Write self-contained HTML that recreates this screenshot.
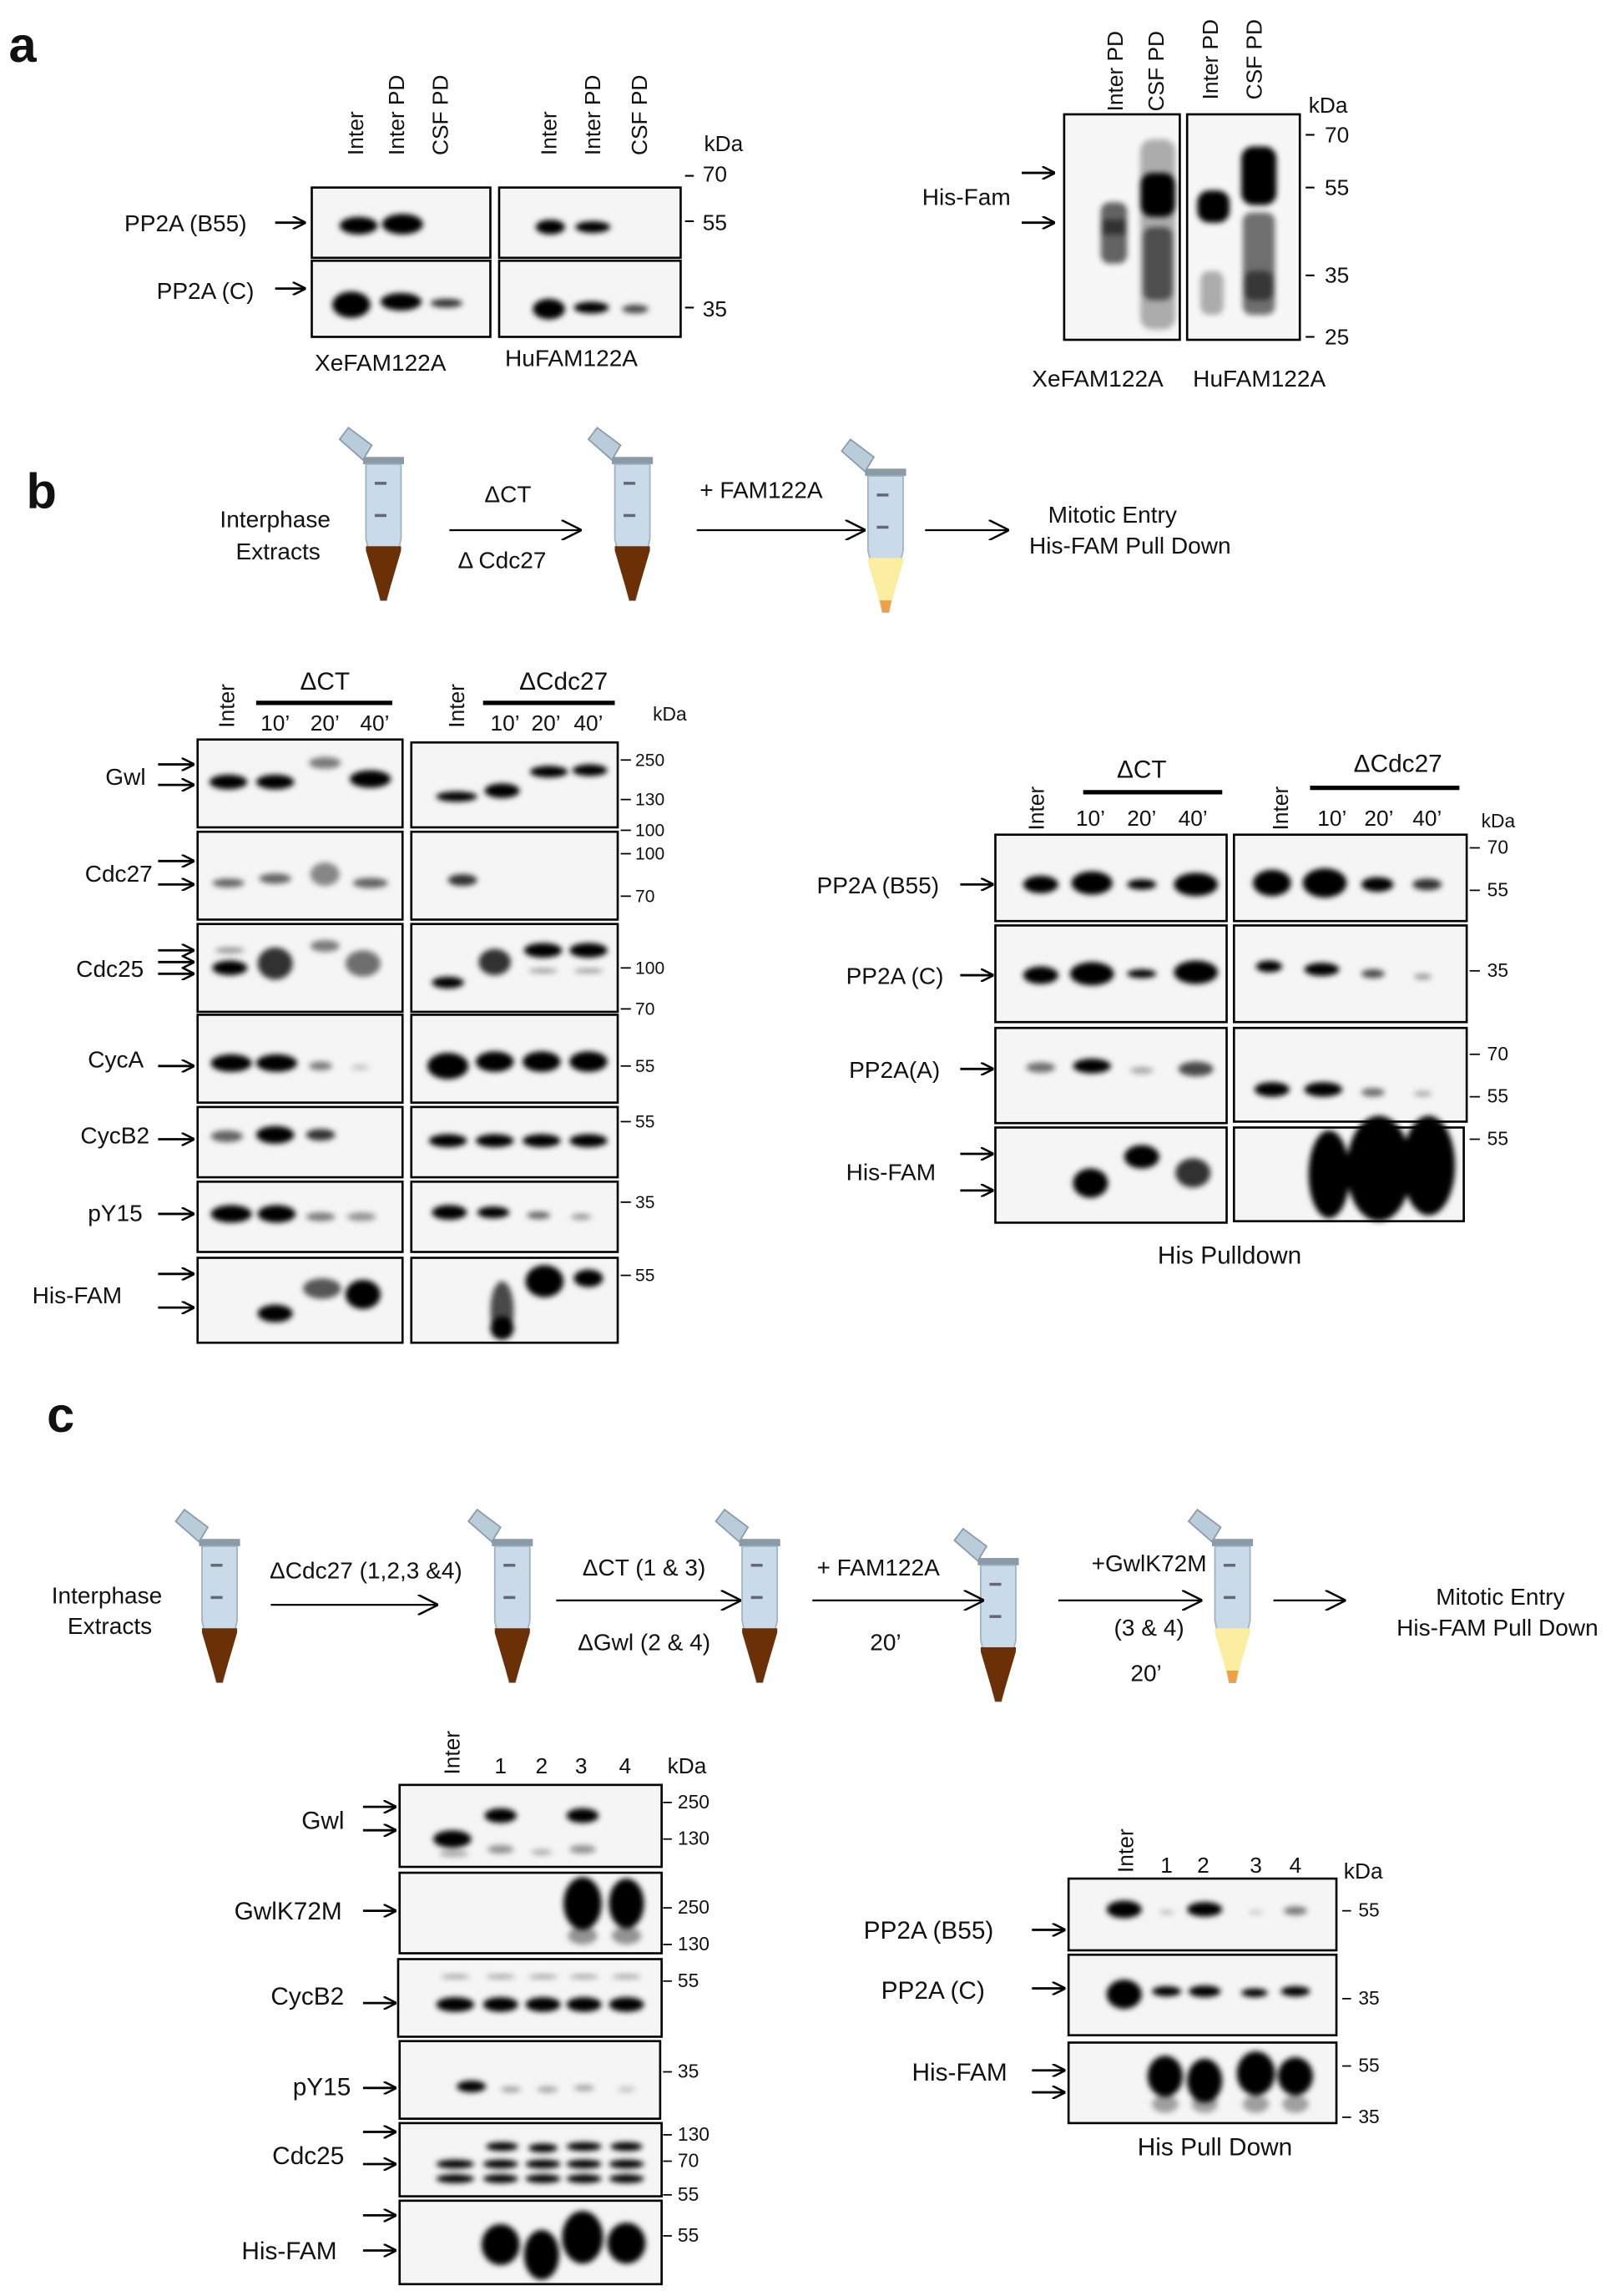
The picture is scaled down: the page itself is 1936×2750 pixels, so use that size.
<!DOCTYPE html>
<html><head><meta charset="utf-8"><style>
html,body{margin:0;padding:0;background:#fff}
svg{display:block}
text{font-family:"Liberation Sans",sans-serif;fill:#111}
</style></head><body>
<svg width="1936" height="2750" viewBox="0 0 1104 1568" xmlns="http://www.w3.org/2000/svg">
<defs>
<filter id="b" x="-50%" y="-50%" width="200%" height="200%"><feGaussianBlur stdDeviation="2"/></filter>
<filter id="b2" x="-50%" y="-50%" width="200%" height="200%"><feGaussianBlur stdDeviation="4"/></filter>
<marker id="ah" viewBox="0 0 10 10" refX="9" refY="5" markerWidth="9" markerHeight="9" orient="auto" markerUnits="userSpaceOnUse"><path d="M0,0 L10,5 L0,10" fill="none" stroke="#000" stroke-width="1.6"/></marker>
<marker id="ah2" viewBox="0 0 10 10" refX="9" refY="5" markerWidth="14" markerHeight="14" orient="auto" markerUnits="userSpaceOnUse"><path d="M0,0 L10,5 L0,10" fill="none" stroke="#000" stroke-width="1"/></marker>
<g id="tube">
<rect x="-14" y="-6" width="28" height="5" fill="#8a9aa6"/>
<path d="M-12,-1 L12,-1 L12,50 L2,92 L-2,92 L-12,50 Z" fill="#c9dbe8" stroke="#9fb2c0" stroke-width="1"/>
<line x1="-6" y1="12" x2="2" y2="12" stroke="#667" stroke-width="2"/>
<line x1="-6" y1="34" x2="2" y2="34" stroke="#667" stroke-width="2"/>
<path d="M-14,-4 L-30,-18 L-24,-26 L-8,-14 Z" fill="#b8ccda" stroke="#8a9aa6" stroke-width="1"/>
</g>
<g id="tubeb">
<use href="#tube"/>
<path d="M-12,55 L12,55 L12,58 L2,92 L-2,92 L-12,58 Z" fill="#6b3006"/>
</g>
<g id="tubey">
<use href="#tube"/>
<path d="M-12,55 L12,55 L12,58 L2,92 L-2,92 L-12,58 Z" fill="#fbeea0"/>
<path d="M-4,84 L4,84 L2,92 L-2,92 Z" fill="#f0a040"/>
</g>
</defs>

<!-- ============ PANEL A ============ -->
<text x="6" y="42" font-size="34" font-weight="bold">a</text>
<g font-size="15">
<text transform="translate(248,106) rotate(-90)">Inter</text>
<text transform="translate(276,106) rotate(-90)">Inter PD</text>
<text transform="translate(306,106) rotate(-90)">CSF PD</text>
<text transform="translate(380,106) rotate(-90)">Inter</text>
<text transform="translate(410,106) rotate(-90)">Inter PD</text>
<text transform="translate(442,106) rotate(-90)">CSF PD</text>
</g>
<text x="481" y="103" font-size="15">kDa</text>
<g font-size="15">
<text x="480" y="124">70</text><text x="480" y="157">55</text><text x="480" y="216">35</text>
</g>
<g stroke="#000" stroke-width="1.2"><line x1="468" y1="120" x2="474" y2="120"/><line x1="468" y1="151" x2="474" y2="151"/><line x1="468" y1="210" x2="474" y2="210"/></g>
<g fill="#f5f5f5" stroke="#000" stroke-width="1.5">
<rect x="213" y="128" width="122" height="48"/><rect x="341" y="128" width="124" height="48"/>
<rect x="213" y="178" width="122" height="52"/><rect x="341" y="178" width="124" height="52"/>
</g>
<g filter="url(#b)">
<ellipse cx="245" cy="154" rx="13" ry="6"/><ellipse cx="275" cy="153" rx="14" ry="7"/>
<ellipse cx="376" cy="155" rx="10" ry="5"/><ellipse cx="405" cy="155" rx="12" ry="4"/>
<ellipse cx="240" cy="208" rx="13" ry="9"/><ellipse cx="274" cy="206" rx="14" ry="6"/><ellipse cx="305" cy="207" rx="11" ry="3" opacity=".8"/>
<ellipse cx="375" cy="211" rx="11" ry="7"/><ellipse cx="404" cy="210" rx="12" ry="4"/><ellipse cx="434" cy="211" rx="9" ry="3" opacity=".7"/>
</g>
<text x="85" y="158" font-size="16">PP2A (B55)</text>
<line x1="188" y1="152" x2="208" y2="152" stroke="#000" stroke-width="1.6" marker-end="url(#ah)"/>
<text x="107" y="204" font-size="16">PP2A (C)</text>
<line x1="188" y1="197" x2="208" y2="197" stroke="#000" stroke-width="1.6" marker-end="url(#ah)"/>
<text x="215" y="253" font-size="16">XeFAM122A</text>
<text x="345" y="250" font-size="16">HuFAM122A</text>

<!-- right a -->
<g font-size="15">
<text transform="translate(767,76) rotate(-90)">Inter PD</text>
<text transform="translate(795,76) rotate(-90)">CSF PD</text>
<text transform="translate(832,68) rotate(-90)">Inter PD</text>
<text transform="translate(862,68) rotate(-90)">CSF PD</text>
</g>
<text x="894" y="77" font-size="15">kDa</text>
<g font-size="15"><text x="905" y="97">70</text><text x="905" y="133">55</text><text x="905" y="193">35</text><text x="905" y="235">25</text></g>
<g stroke="#000" stroke-width="1.2"><line x1="892" y1="92" x2="898" y2="92"/><line x1="892" y1="128" x2="898" y2="128"/><line x1="892" y1="188" x2="898" y2="188"/><line x1="892" y1="230" x2="898" y2="230"/></g>
<g fill="#f7f7f7" stroke="#000" stroke-width="1.5">
<rect x="727" y="78" width="79" height="154"/><rect x="811" y="78" width="77" height="154"/>
</g>
<g filter="url(#b)">
<rect x="752" y="138" width="18" height="42" rx="6" opacity=".6"/><rect x="753" y="150" width="16" height="10" opacity=".5"/>
<rect x="779" y="95" width="24" height="130" rx="8" opacity=".3"/>
<rect x="779" y="118" width="24" height="30" rx="8"/><rect x="781" y="155" width="20" height="50" rx="6" opacity=".55"/>
<rect x="818" y="130" width="22" height="22" rx="8"/><rect x="820" y="185" width="16" height="30" rx="6" opacity=".3"/>
<rect x="848" y="100" width="24" height="40" rx="8"/><rect x="849" y="145" width="22" height="70" rx="6" opacity=".55"/><rect x="850" y="185" width="20" height="20" rx="6" opacity=".5"/>
</g>
<text x="630" y="140" font-size="16">His-Fam</text>
<line x1="698" y1="118" x2="720" y2="118" stroke="#000" stroke-width="1.6" marker-end="url(#ah)"/>
<line x1="698" y1="152" x2="720" y2="152" stroke="#000" stroke-width="1.6" marker-end="url(#ah)"/>
<text x="705" y="264" font-size="16">XeFAM122A</text>
<text x="815" y="264" font-size="16">HuFAM122A</text>

<!-- ============ PANEL B ============ -->
<text x="18" y="347" font-size="34" font-weight="bold">b</text>
<use href="#tubeb" x="262" y="318"/>
<use href="#tubeb" x="432" y="318"/>
<use href="#tubey" x="605" y="326"/>
<text x="188" y="360" font-size="16" text-anchor="middle">Interphase</text>
<text x="190" y="382" font-size="16" text-anchor="middle">Extracts</text>
<text x="347" y="343" font-size="16" text-anchor="middle">ΔCT</text>
<text x="343" y="388" font-size="16" text-anchor="middle">Δ Cdc27</text>
<line x1="307" y1="362" x2="396" y2="362" stroke="#000" stroke-width="1.3" marker-end="url(#ah2)"/>
<text x="520" y="340" font-size="16" text-anchor="middle">+ FAM122A</text>
<line x1="476" y1="362" x2="590" y2="362" stroke="#000" stroke-width="1.3" marker-end="url(#ah2)"/>
<line x1="632" y1="362" x2="688" y2="362" stroke="#000" stroke-width="1.3" marker-end="url(#ah2)"/>
<text x="760" y="357" font-size="16" text-anchor="middle">Mitotic Entry</text>
<text x="772" y="378" font-size="16" text-anchor="middle">His-FAM Pull Down</text>

<!-- left b blots -->
<g font-size="15">
<text transform="translate(160,497) rotate(-90)">Inter</text>
<text transform="translate(317,497) rotate(-90)">Inter</text>
<text x="222" y="471" font-size="17" text-anchor="middle">ΔCT</text>
<text x="385" y="471" font-size="17" text-anchor="middle">ΔCdc27</text>
<text x="188" y="499" text-anchor="middle">10’</text><text x="222" y="499" text-anchor="middle">20’</text><text x="256" y="499" text-anchor="middle">40’</text>
<text x="345" y="499" text-anchor="middle">10’</text><text x="373" y="499" text-anchor="middle">20’</text><text x="402" y="499" text-anchor="middle">40’</text>
</g>
<line x1="175" y1="480" x2="268" y2="480" stroke="#000" stroke-width="3"/>
<line x1="330" y1="480" x2="420" y2="480" stroke="#000" stroke-width="3"/>
<text x="446" y="492" font-size="13">kDa</text>
<g fill="#f5f5f5" stroke="#000" stroke-width="1.5">
<rect x="135" y="505" width="140" height="60"/><rect x="281" y="507" width="141" height="58"/>
<rect x="135" y="568" width="140" height="60"/><rect x="281" y="568" width="141" height="60"/>
<rect x="135" y="631" width="140" height="60"/><rect x="281" y="631" width="141" height="60"/>
<rect x="135" y="693" width="140" height="60"/><rect x="281" y="693" width="141" height="60"/>
<rect x="135" y="756" width="140" height="48"/><rect x="281" y="756" width="141" height="48"/>
<rect x="135" y="807" width="140" height="48"/><rect x="281" y="807" width="141" height="48"/>
<rect x="135" y="859" width="140" height="58"/><rect x="281" y="859" width="141" height="58"/>
</g>
<g filter="url(#b)">
<ellipse cx="156" cy="534" rx="13" ry="5"/><ellipse cx="188" cy="534" rx="13" ry="5"/><ellipse cx="222" cy="521" rx="11" ry="4" opacity=".5"/><ellipse cx="253" cy="532" rx="14" ry="6"/>
<ellipse cx="312" cy="544" rx="14" ry="3.5"/><ellipse cx="343" cy="540" rx="12" ry="5"/><ellipse cx="375" cy="527" rx="13" ry="4"/><ellipse cx="403" cy="526" rx="12" ry="4"/>
<ellipse cx="156" cy="603" rx="11" ry="3" opacity=".6"/><ellipse cx="188" cy="600" rx="11" ry="3.5" opacity=".6"/><ellipse cx="222" cy="597" rx="10" ry="8" opacity=".45"/><ellipse cx="253" cy="603" rx="12" ry="3.5" opacity=".6"/>
<ellipse cx="316" cy="601" rx="10" ry="4" opacity=".8"/>
<ellipse cx="157" cy="661" rx="12" ry="5"/><ellipse cx="157" cy="649" rx="10" ry="2" opacity=".4"/><ellipse cx="188" cy="658" rx="12" ry="11" opacity=".8"/><ellipse cx="222" cy="646" rx="10" ry="4" opacity=".5"/><ellipse cx="248" cy="658" rx="12" ry="9" opacity=".55"/>
<ellipse cx="306" cy="671" rx="11" ry="4"/><ellipse cx="338" cy="657" rx="11" ry="9" opacity=".8"/><ellipse cx="371" cy="649" rx="13" ry="5"/><ellipse cx="402" cy="649" rx="13" ry="5"/><ellipse cx="371" cy="663" rx="10" ry="1.5" opacity=".4"/><ellipse cx="402" cy="663" rx="10" ry="1.5" opacity=".4"/>
<ellipse cx="158" cy="726" rx="14" ry="6"/><ellipse cx="189" cy="726" rx="14" ry="6"/><ellipse cx="219" cy="728" rx="8" ry="3" opacity=".5"/><ellipse cx="246" cy="729" rx="6" ry="2" opacity=".2"/>
<ellipse cx="306" cy="728" rx="14" ry="9"/><ellipse cx="338" cy="725" rx="13" ry="7"/><ellipse cx="370" cy="725" rx="13" ry="7"/><ellipse cx="402" cy="725" rx="13" ry="7"/>
<ellipse cx="155" cy="776" rx="11" ry="4" opacity=".6"/><ellipse cx="188" cy="775" rx="13" ry="6"/><ellipse cx="219" cy="775" rx="10" ry="4" opacity=".8"/>
<ellipse cx="306" cy="779" rx="13" ry="4.5"/><ellipse cx="338" cy="779" rx="13" ry="4.5"/><ellipse cx="370" cy="779" rx="13" ry="4.5"/><ellipse cx="402" cy="779" rx="13" ry="4.5"/>
<ellipse cx="158" cy="829" rx="14" ry="6"/><ellipse cx="189" cy="829" rx="13" ry="6"/><ellipse cx="219" cy="831" rx="10" ry="3" opacity=".5"/><ellipse cx="247" cy="831" rx="10" ry="3" opacity=".4"/>
<ellipse cx="307" cy="828" rx="12" ry="5"/><ellipse cx="337" cy="828" rx="11" ry="4"/><ellipse cx="368" cy="830" rx="8" ry="2.5" opacity=".6"/><ellipse cx="397" cy="831" rx="7" ry="2" opacity=".4"/>
<ellipse cx="188" cy="897" rx="12" ry="6"/><ellipse cx="220" cy="880" rx="13" ry="7" opacity=".65"/><ellipse cx="248" cy="884" rx="12" ry="10"/>
<ellipse cx="343" cy="895" rx="8" ry="20" opacity=".7"/><ellipse cx="343" cy="907" rx="8" ry="8"/><ellipse cx="372" cy="875" rx="13" ry="11"/><ellipse cx="402" cy="873" rx="10" ry="6"/>
</g>
<g font-size="16">
<text x="72" y="536">Gwl</text><text x="58" y="602">Cdc27</text><text x="52" y="667">Cdc25</text>
<text x="60" y="729">CycA</text><text x="55" y="781">CycB2</text><text x="60" y="834">pY15</text><text x="22" y="890">His-FAM</text>
</g>
<g stroke="#000" stroke-width="1.6" marker-end="url(#ah)">
<line x1="108" y1="522" x2="132" y2="522"/><line x1="108" y1="536" x2="132" y2="536"/>
<line x1="108" y1="588" x2="132" y2="588"/><line x1="108" y1="604" x2="132" y2="604"/>
<line x1="108" y1="649" x2="132" y2="649"/><line x1="108" y1="657" x2="132" y2="657"/><line x1="108" y1="665" x2="132" y2="665"/>
<line x1="108" y1="728" x2="132" y2="728"/><line x1="108" y1="778" x2="132" y2="778"/><line x1="108" y1="829" x2="132" y2="829"/>
<line x1="108" y1="870" x2="132" y2="870"/><line x1="108" y1="893" x2="132" y2="893"/>
</g>
<g font-size="12"><text x="434" y="523">250</text><text x="434" y="550">130</text><text x="434" y="571">100</text><text x="434" y="587">100</text><text x="434" y="616">70</text>
<text x="434" y="665">100</text><text x="434" y="693">70</text><text x="434" y="732">55</text><text x="434" y="770">55</text><text x="434" y="825">35</text><text x="434" y="875">55</text></g>
<g stroke="#000" stroke-width="1"><line x1="424" y1="519" x2="431" y2="519"/><line x1="424" y1="546" x2="431" y2="546"/><line x1="424" y1="567" x2="431" y2="567"/><line x1="424" y1="583" x2="431" y2="583"/><line x1="424" y1="612" x2="431" y2="612"/><line x1="424" y1="661" x2="431" y2="661"/><line x1="424" y1="689" x2="431" y2="689"/><line x1="424" y1="728" x2="431" y2="728"/><line x1="424" y1="766" x2="431" y2="766"/><line x1="424" y1="821" x2="431" y2="821"/><line x1="424" y1="871" x2="431" y2="871"/></g>

<!-- right b blots -->
<g font-size="15">
<text transform="translate(713,567) rotate(-90)">Inter</text>
<text transform="translate(880,567) rotate(-90)">Inter</text>
<text x="780" y="531" font-size="17" text-anchor="middle">ΔCT</text>
<text x="955" y="527" font-size="17" text-anchor="middle">ΔCdc27</text>
<text x="745" y="564" text-anchor="middle">10’</text><text x="780" y="564" text-anchor="middle">20’</text><text x="815" y="564" text-anchor="middle">40’</text>
<text x="910" y="564" text-anchor="middle">10’</text><text x="942" y="564" text-anchor="middle">20’</text><text x="975" y="564" text-anchor="middle">40’</text>
</g>
<line x1="740" y1="541" x2="835" y2="541" stroke="#000" stroke-width="3"/>
<line x1="895" y1="538" x2="997" y2="538" stroke="#000" stroke-width="3"/>
<text x="1012" y="565" font-size="13">kDa</text>
<g fill="#f5f5f5" stroke="#000" stroke-width="1.5">
<rect x="680" y="570" width="158" height="59"/><rect x="843" y="570" width="159" height="59"/>
<rect x="680" y="632" width="158" height="66"/><rect x="843" y="632" width="159" height="66"/>
<rect x="680" y="702" width="158" height="65"/><rect x="843" y="702" width="159" height="64"/>
<rect x="680" y="770" width="158" height="65"/><rect x="843" y="770" width="157" height="64"/>
</g>
<g filter="url(#b)">
<ellipse cx="711" cy="604" rx="12" ry="6"/><ellipse cx="746" cy="603" rx="14" ry="8"/><ellipse cx="780" cy="604" rx="10" ry="3.5"/><ellipse cx="817" cy="604" rx="15" ry="8"/>
<ellipse cx="869" cy="603" rx="13" ry="9"/><ellipse cx="905" cy="603" rx="15" ry="10"/><ellipse cx="941" cy="604" rx="11" ry="5"/><ellipse cx="975" cy="604" rx="10" ry="4" opacity=".8"/>
<ellipse cx="711" cy="666" rx="12" ry="6"/><ellipse cx="746" cy="665" rx="15" ry="8"/><ellipse cx="780" cy="665" rx="10" ry="3"/><ellipse cx="817" cy="664" rx="15" ry="8"/>
<ellipse cx="867" cy="660" rx="9" ry="4"/><ellipse cx="903" cy="662" rx="12" ry="4.5"/><ellipse cx="938" cy="665" rx="8" ry="3" opacity=".7"/><ellipse cx="972" cy="667" rx="6" ry="2" opacity=".4"/>
<ellipse cx="711" cy="729" rx="10" ry="3.5" opacity=".55"/><ellipse cx="746" cy="728" rx="13" ry="5"/><ellipse cx="780" cy="731" rx="8" ry="2.5" opacity=".3"/><ellipse cx="817" cy="730" rx="12" ry="5" opacity=".7"/>
<ellipse cx="869" cy="744" rx="12" ry="5"/><ellipse cx="904" cy="744" rx="13" ry="5"/><ellipse cx="938" cy="746" rx="8" ry="3" opacity=".55"/><ellipse cx="972" cy="747" rx="6" ry="2" opacity=".3"/>
<ellipse cx="745" cy="808" rx="12" ry="10"/><ellipse cx="780" cy="790" rx="12" ry="8"/><ellipse cx="815" cy="801" rx="12" ry="10" opacity=".8"/>
<ellipse cx="908" cy="802" rx="14" ry="30"/><ellipse cx="942" cy="798" rx="22" ry="36"/><ellipse cx="976" cy="796" rx="18" ry="34"/>
</g>
<g font-size="16">
<text x="558" y="610">PP2A (B55)</text><text x="578" y="672">PP2A (C)</text><text x="580" y="736">PP2A(A)</text><text x="578" y="806">His-FAM</text>
</g>
<g stroke="#000" stroke-width="1.6" marker-end="url(#ah)">
<line x1="656" y1="604" x2="678" y2="604"/><line x1="656" y1="666" x2="678" y2="666"/><line x1="656" y1="730" x2="678" y2="730"/>
<line x1="656" y1="788" x2="678" y2="788"/><line x1="656" y1="813" x2="678" y2="813"/>
</g>
<g font-size="13"><text x="1016" y="583">70</text><text x="1016" y="612">55</text><text x="1016" y="667">35</text><text x="1016" y="724">70</text><text x="1016" y="753">55</text><text x="1016" y="782">55</text></g>
<g stroke="#000" stroke-width="1"><line x1="1004" y1="579" x2="1011" y2="579"/><line x1="1004" y1="608" x2="1011" y2="608"/><line x1="1004" y1="663" x2="1011" y2="663"/><line x1="1004" y1="720" x2="1011" y2="720"/><line x1="1004" y1="749" x2="1011" y2="749"/><line x1="1004" y1="778" x2="1011" y2="778"/></g>
<text x="840" y="863" font-size="17" text-anchor="middle">His Pulldown</text>

<!-- ============ PANEL C ============ -->
<text x="32" y="978" font-size="34" font-weight="bold">c</text>
<use href="#tubeb" x="150" y="1057"/>
<use href="#tubeb" x="350" y="1057"/>
<use href="#tubeb" x="519" y="1057"/>
<use href="#tubeb" x="682" y="1070"/>
<use href="#tubey" x="842" y="1057"/>
<text x="73" y="1095" font-size="16" text-anchor="middle">Interphase</text>
<text x="75" y="1116" font-size="16" text-anchor="middle">Extracts</text>
<text x="250" y="1078" font-size="16" text-anchor="middle">ΔCdc27 (1,2,3 &amp;4)</text>
<line x1="185" y1="1096" x2="298" y2="1096" stroke="#000" stroke-width="1.3" marker-end="url(#ah2)"/>
<text x="440" y="1076" font-size="16" text-anchor="middle">ΔCT (1 &amp; 3)</text>
<text x="440" y="1127" font-size="16" text-anchor="middle">ΔGwl (2 &amp; 4)</text>
<line x1="380" y1="1093" x2="505" y2="1093" stroke="#000" stroke-width="1.3" marker-end="url(#ah2)"/>
<text x="600" y="1076" font-size="16" text-anchor="middle">+ FAM122A</text>
<text x="605" y="1127" font-size="16" text-anchor="middle">20’</text>
<line x1="555" y1="1093" x2="671" y2="1093" stroke="#000" stroke-width="1.3" marker-end="url(#ah2)"/>
<text x="785" y="1073" font-size="16" text-anchor="middle">+GwlK72M</text>
<text x="785" y="1117" font-size="16" text-anchor="middle">(3 &amp; 4)</text>
<text x="783" y="1148" font-size="16" text-anchor="middle">20’</text>
<line x1="723" y1="1093" x2="820" y2="1093" stroke="#000" stroke-width="1.3" marker-end="url(#ah2)"/>
<line x1="870" y1="1093" x2="918" y2="1093" stroke="#000" stroke-width="1.3" marker-end="url(#ah2)"/>
<text x="1025" y="1096" font-size="16" text-anchor="middle">Mitotic Entry</text>
<text x="1023" y="1117" font-size="16" text-anchor="middle">His-FAM Pull Down</text>

<!-- left c blots -->
<g font-size="15">
<text transform="translate(314,1212) rotate(-90)">Inter</text>
<text x="342" y="1211" text-anchor="middle">1</text><text x="370" y="1211" text-anchor="middle">2</text><text x="397" y="1211" text-anchor="middle">3</text><text x="427" y="1211" text-anchor="middle">4</text>
<text x="456" y="1211">kDa</text>
</g>
<g fill="#f5f5f5" stroke="#000" stroke-width="1.5">
<rect x="273" y="1219" width="179" height="56"/><rect x="273" y="1279" width="179" height="55"/>
<rect x="272" y="1338" width="180" height="53"/><rect x="273" y="1394" width="178" height="53"/>
<rect x="273" y="1450" width="179" height="50"/><rect x="273" y="1503" width="179" height="57"/>
</g>
<g filter="url(#b)">
<ellipse cx="309" cy="1256" rx="13" ry="6"/><ellipse cx="342" cy="1240" rx="11" ry="5"/><ellipse cx="398" cy="1240" rx="11" ry="5"/>
<ellipse cx="342" cy="1263" rx="9" ry="3" opacity=".4"/><ellipse cx="398" cy="1263" rx="9" ry="3" opacity=".4"/><ellipse cx="370" cy="1265" rx="7" ry="2" opacity=".3"/><ellipse cx="310" cy="1266" rx="10" ry="2" opacity=".35"/>
<ellipse cx="398" cy="1300" rx="13" ry="18"/><ellipse cx="428" cy="1300" rx="12" ry="17"/><ellipse cx="398" cy="1322" rx="10" ry="6" opacity=".4"/><ellipse cx="428" cy="1322" rx="10" ry="6" opacity=".4"/>
<ellipse cx="311" cy="1369" rx="13" ry="5"/><ellipse cx="342" cy="1369" rx="12" ry="5"/><ellipse cx="371" cy="1369" rx="12" ry="5"/><ellipse cx="399" cy="1369" rx="12" ry="5"/><ellipse cx="428" cy="1369" rx="12" ry="5"/>
<ellipse cx="311" cy="1350" rx="10" ry="1.5" opacity=".35"/><ellipse cx="342" cy="1350" rx="10" ry="1.5" opacity=".35"/><ellipse cx="371" cy="1350" rx="10" ry="1.5" opacity=".35"/><ellipse cx="399" cy="1350" rx="10" ry="1.5" opacity=".35"/><ellipse cx="428" cy="1350" rx="10" ry="1.5" opacity=".35"/>
<ellipse cx="322" cy="1425" rx="10" ry="4"/><ellipse cx="349" cy="1427" rx="7" ry="2" opacity=".35"/><ellipse cx="374" cy="1427" rx="7" ry="2" opacity=".35"/><ellipse cx="399" cy="1426" rx="7" ry="2" opacity=".35"/><ellipse cx="428" cy="1427" rx="6" ry="2" opacity=".2"/>
<ellipse cx="343" cy="1466" rx="11" ry="3"/><ellipse cx="371" cy="1467" rx="10" ry="3"/><ellipse cx="399" cy="1466" rx="12" ry="3"/><ellipse cx="428" cy="1466" rx="11" ry="3"/>
<ellipse cx="311" cy="1478" rx="13" ry="3"/><ellipse cx="342" cy="1478" rx="12" ry="3"/><ellipse cx="371" cy="1478" rx="12" ry="3"/><ellipse cx="399" cy="1478" rx="12" ry="3"/><ellipse cx="428" cy="1478" rx="12" ry="3"/>
<ellipse cx="311" cy="1488" rx="13" ry="3"/><ellipse cx="342" cy="1488" rx="12" ry="3"/><ellipse cx="371" cy="1488" rx="12" ry="3"/><ellipse cx="399" cy="1488" rx="12" ry="3"/><ellipse cx="428" cy="1488" rx="12" ry="3"/>
<ellipse cx="342" cy="1533" rx="13" ry="14"/><ellipse cx="370" cy="1540" rx="12" ry="17"/><ellipse cx="398" cy="1528" rx="14" ry="18"/><ellipse cx="428" cy="1532" rx="13" ry="14"/>
</g>
<g font-size="17">
<text x="206" y="1249">Gwl</text><text x="160" y="1311">GwlK72M</text><text x="185" y="1369">CycB2</text>
<text x="200" y="1431">pY15</text><text x="186" y="1478">Cdc25</text><text x="165" y="1543">His-FAM</text>
</g>
<g stroke="#000" stroke-width="1.6" marker-end="url(#ah)">
<line x1="248" y1="1234" x2="270" y2="1234"/><line x1="248" y1="1250" x2="270" y2="1250"/>
<line x1="248" y1="1305" x2="270" y2="1305"/><line x1="248" y1="1368" x2="270" y2="1368"/><line x1="248" y1="1426" x2="270" y2="1426"/>
<line x1="248" y1="1456" x2="270" y2="1456"/><line x1="248" y1="1478" x2="270" y2="1478"/>
<line x1="248" y1="1513" x2="270" y2="1513"/><line x1="248" y1="1537" x2="270" y2="1537"/>
</g>
<g font-size="13"><text x="463" y="1235">250</text><text x="463" y="1260">130</text><text x="463" y="1307">250</text><text x="463" y="1332">130</text><text x="463" y="1357">55</text>
<text x="463" y="1419">35</text><text x="463" y="1462">130</text><text x="463" y="1480">70</text><text x="463" y="1503">55</text><text x="463" y="1531">55</text></g>
<g stroke="#000" stroke-width="1"><line x1="453" y1="1231" x2="459" y2="1231"/><line x1="453" y1="1256" x2="459" y2="1256"/><line x1="453" y1="1303" x2="459" y2="1303"/><line x1="453" y1="1328" x2="459" y2="1328"/><line x1="453" y1="1353" x2="459" y2="1353"/><line x1="453" y1="1415" x2="459" y2="1415"/><line x1="453" y1="1458" x2="459" y2="1458"/><line x1="453" y1="1476" x2="459" y2="1476"/><line x1="453" y1="1499" x2="459" y2="1499"/><line x1="453" y1="1527" x2="459" y2="1527"/></g>

<!-- right c blots -->
<g font-size="15">
<text transform="translate(774,1279) rotate(-90)">Inter</text>
<text x="797" y="1279" text-anchor="middle">1</text><text x="822" y="1279" text-anchor="middle">2</text><text x="858" y="1279" text-anchor="middle">3</text><text x="885" y="1279" text-anchor="middle">4</text>
<text x="918" y="1283">kDa</text>
</g>
<g fill="#f5f5f5" stroke="#000" stroke-width="1.5">
<rect x="730" y="1283" width="183" height="49"/><rect x="730" y="1335" width="183" height="55"/><rect x="730" y="1395" width="183" height="55"/>
</g>
<g filter="url(#b)">
<ellipse cx="768" cy="1304" rx="12" ry="6"/><ellipse cx="797" cy="1306" rx="5" ry="1.5" opacity=".25"/><ellipse cx="823" cy="1304" rx="12" ry="5"/><ellipse cx="858" cy="1306" rx="5" ry="1.5" opacity=".2"/><ellipse cx="885" cy="1305" rx="8" ry="3" opacity=".5"/>
<ellipse cx="768" cy="1362" rx="12" ry="10"/><ellipse cx="797" cy="1360" rx="10" ry="3.5"/><ellipse cx="823" cy="1360" rx="11" ry="4"/><ellipse cx="857" cy="1361" rx="9" ry="3"/><ellipse cx="885" cy="1360" rx="10" ry="3.5"/>
<ellipse cx="796" cy="1418" rx="12" ry="14"/><ellipse cx="823" cy="1421" rx="12" ry="15"/><ellipse cx="858" cy="1416" rx="13" ry="15"/><ellipse cx="885" cy="1418" rx="12" ry="13"/>
<ellipse cx="796" cy="1437" rx="9" ry="6" opacity=".35"/><ellipse cx="823" cy="1437" rx="9" ry="6" opacity=".35"/><ellipse cx="858" cy="1437" rx="9" ry="6" opacity=".35"/><ellipse cx="885" cy="1437" rx="9" ry="6" opacity=".35"/>
</g>
<g font-size="17">
<text x="590" y="1324">PP2A (B55)</text><text x="602" y="1365">PP2A (C)</text><text x="623" y="1421">His-FAM</text>
</g>
<g stroke="#000" stroke-width="1.6" marker-end="url(#ah)">
<line x1="705" y1="1318" x2="727" y2="1318"/><line x1="705" y1="1358" x2="727" y2="1358"/>
<line x1="705" y1="1414" x2="727" y2="1414"/><line x1="705" y1="1429" x2="727" y2="1429"/>
</g>
<g font-size="13"><text x="928" y="1309">55</text><text x="928" y="1369">35</text><text x="928" y="1415">55</text><text x="928" y="1450">35</text></g>
<g stroke="#000" stroke-width="1"><line x1="917" y1="1305" x2="923" y2="1305"/><line x1="917" y1="1365" x2="923" y2="1365"/><line x1="917" y1="1411" x2="923" y2="1411"/><line x1="917" y1="1446" x2="923" y2="1446"/></g>
<text x="830" y="1472" font-size="17" text-anchor="middle">His Pull Down</text>
</svg>
</body></html>
